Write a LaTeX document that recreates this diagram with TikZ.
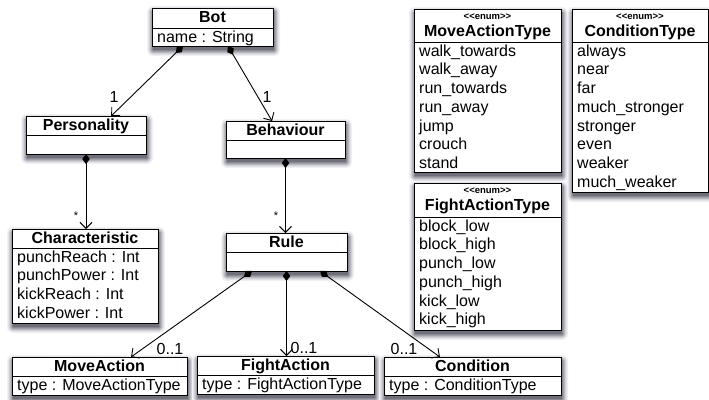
\documentclass[tikz,border=0pt]{standalone}
\usepackage{fontspec}
\setmainfont{Liberation Sans}
\usetikzlibrary{arrows.meta,calc}

% shadow ring colours, outermost to innermost
\definecolor{shadeA}{RGB}{242,242,246}
\definecolor{shadeB}{RGB}{228,228,233}
\definecolor{shadeC}{RGB}{210,210,216}
\definecolor{shadeD}{RGB}{188,188,195}
\definecolor{shadeE}{RGB}{164,164,172}
\definecolor{shadeF}{RGB}{138,138,147}
\definecolor{shadeG}{RGB}{112,112,122}

\tikzset{
  classbox/.style={draw=black, line width=1pt, fill=white, inner sep=0pt, outer sep=0pt},
  divider/.style={draw=black, line width=1pt},
  ctitle/.style={font=\fontsize{16}{18}\selectfont\bfseries, inner sep=0pt, anchor=base},
  stereo/.style={font=\fontsize{9.5}{10}\selectfont\bfseries, inner sep=0pt, anchor=base},
  cattr/.style={font=\fontsize{16}{18.7}\selectfont, align=left, inner sep=0pt, anchor=north west},
  mult/.style={font=\fontsize{16}{18}\selectfont, inner sep=0pt},
  star/.style={font=\fontsize{11}{12}\selectfont, inner sep=0pt},
  compose/.style={draw=black, line width=0.9pt,
    {Diamond[length=10pt,width=7.5pt]}-{Straight Barb[length=6pt,width=12pt]}},
}

% one ring of a soft drop shadow: x, y, width, height, spread, colour
\newcommand\shadowring[6]{%
  \path[fill=#6, rounded corners=#5pt]
    (#1,#2) ++(1,4) ++(-#5,-#5) rectangle ++(#3+2*#5,#4+2*#5);
}
% class box with a soft drop shadow: name, x, y, width, height, header height
\newcommand\umlclass[6]{%
  \shadowring{#2}{#3}{#4}{#5}{6}{shadeA}
  \shadowring{#2}{#3}{#4}{#5}{5}{shadeB}
  \shadowring{#2}{#3}{#4}{#5}{4}{shadeC}
  \shadowring{#2}{#3}{#4}{#5}{3}{shadeD}
  \shadowring{#2}{#3}{#4}{#5}{2}{shadeE}
  \shadowring{#2}{#3}{#4}{#5}{1}{shadeF}
  \shadowring{#2}{#3}{#4}{#5}{0}{shadeG}
  \node[classbox, minimum width=#4pt, minimum height=#5pt, anchor=north west] (#1) at (#2,#3) {};
  \draw[divider] ($(#1.north west)+(0,#6)$) coordinate (#1-div) -- ($(#1.north east)+(0,#6)$);
}
% plain class title
\newcommand\umltitle[2]{%
  \node[ctitle] (#1-title) at ($(#1.north)+(0,14)$) {#2};
}
% enumeration title with stereotype
\newcommand\umlenum[2]{%
  \node[stereo] (#1-stereo) at ($(#1.north)+(0,10)$) {<{}<enum>{}>};
  \node[ctitle] (#1-title) at ($(#1.north)+(0,27)$) {#2};
}
% attribute / literal list
\newcommand\umlattrs[2]{%
  \node[cattr] (#1-attrs) at ($(#1-div)+(5,2)$) {\rule{0pt}{12pt}#2};
}

\begin{document}
\begin{tikzpicture}[x=1pt, y=-1pt]
\useasboundingbox (0,0) rectangle (709,399);
\fill[white] (0,0) rectangle (709,399);

% classes
\umlclass{bot}{152}{8}{121}{38}{20}
\umltitle{bot}{Bot}
\umlattrs{bot}{name : String}

\umlclass{pers}{26}{116}{120}{38}{19}
\umltitle{pers}{Personality}

\umlclass{behav}{226}{121}{119}{37}{19}
\umltitle{behav}{Behaviour}

\umlclass{charac}{12}{229}{146}{94}{19}
\umltitle{charac}{Characteristic}
\umlattrs{charac}{punchReach : Int\\punchPower : Int\\kickReach : Int\\kickPower : Int}

\umlclass{rule}{226}{233}{121}{38}{19}
\umltitle{rule}{Rule}

\umlclass{move}{12}{357}{175}{38}{19}
\umltitle{move}{MoveAction}
\umlattrs{move}{type : MoveActionType}

\umlclass{fight}{197}{356}{177}{38}{19}
\umltitle{fight}{FightAction}
\umlattrs{fight}{type : FightActionType}

\umlclass{cond}{384}{357}{177}{38}{19}
\umltitle{cond}{Condition}
\umlattrs{cond}{type : ConditionType}

% enumerations
\umlclass{mat}{414}{9}{147}{163}{33}
\umlenum{mat}{MoveActionType}
\umlattrs{mat}{walk\_towards\\walk\_away\\run\_towards\\run\_away\\jump\\crouch\\stand}

\umlclass{ct}{572}{9}{136}{183}{33}
\umlenum{ct}{ConditionType}
\umlattrs{ct}{always\\near\\far\\much\_stronger\\stronger\\even\\weaker\\much\_weaker}

\umlclass{fat}{414}{183}{147}{147}{34}
\umlenum{fat}{FightActionType}
\umlattrs{fat}{block\_low\\block\_high\\punch\_low\\punch\_high\\kick\_low\\kick\_high}

% compositions
\draw[compose] ($(bot.south west)!0.256!(bot.south east)$) -- ($(pers.north west)!0.71!(pers.north east)$);
\draw[compose] ($(bot.south west)!0.628!(bot.south east)$) -- ($(behav.north west)!0.387!(behav.north east)$);
\draw[compose] (pers.south) -- (pers.south |- charac.north);
\draw[compose] (behav.south) -- (behav.south |- rule.north);
\draw[compose] ($(rule.south west)!0.215!(rule.south east)$) -- ($(move.north west)!0.68!(move.north east)$);
\draw[compose] (rule.south) -- (rule.south |- fight.north);
\draw[compose] ($(rule.south west)!0.777!(rule.south east)$) -- ($(cond.north west)!0.316!(cond.north east)$);

% multiplicities
\node[mult] (m-pers) at (114,97) {1};
\node[mult] (m-behav) at (267,97) {1};
\node[star] (m-charac) at (76,216) {*};
\node[star] (m-rule) at (276,216) {*};
\node[mult] (m-move) at (170,349) {0..1};
\node[mult] (m-fight) at (304,348) {0..1};
\node[mult] (m-cond) at (404,349) {0..1};
\end{tikzpicture}
\end{document}
